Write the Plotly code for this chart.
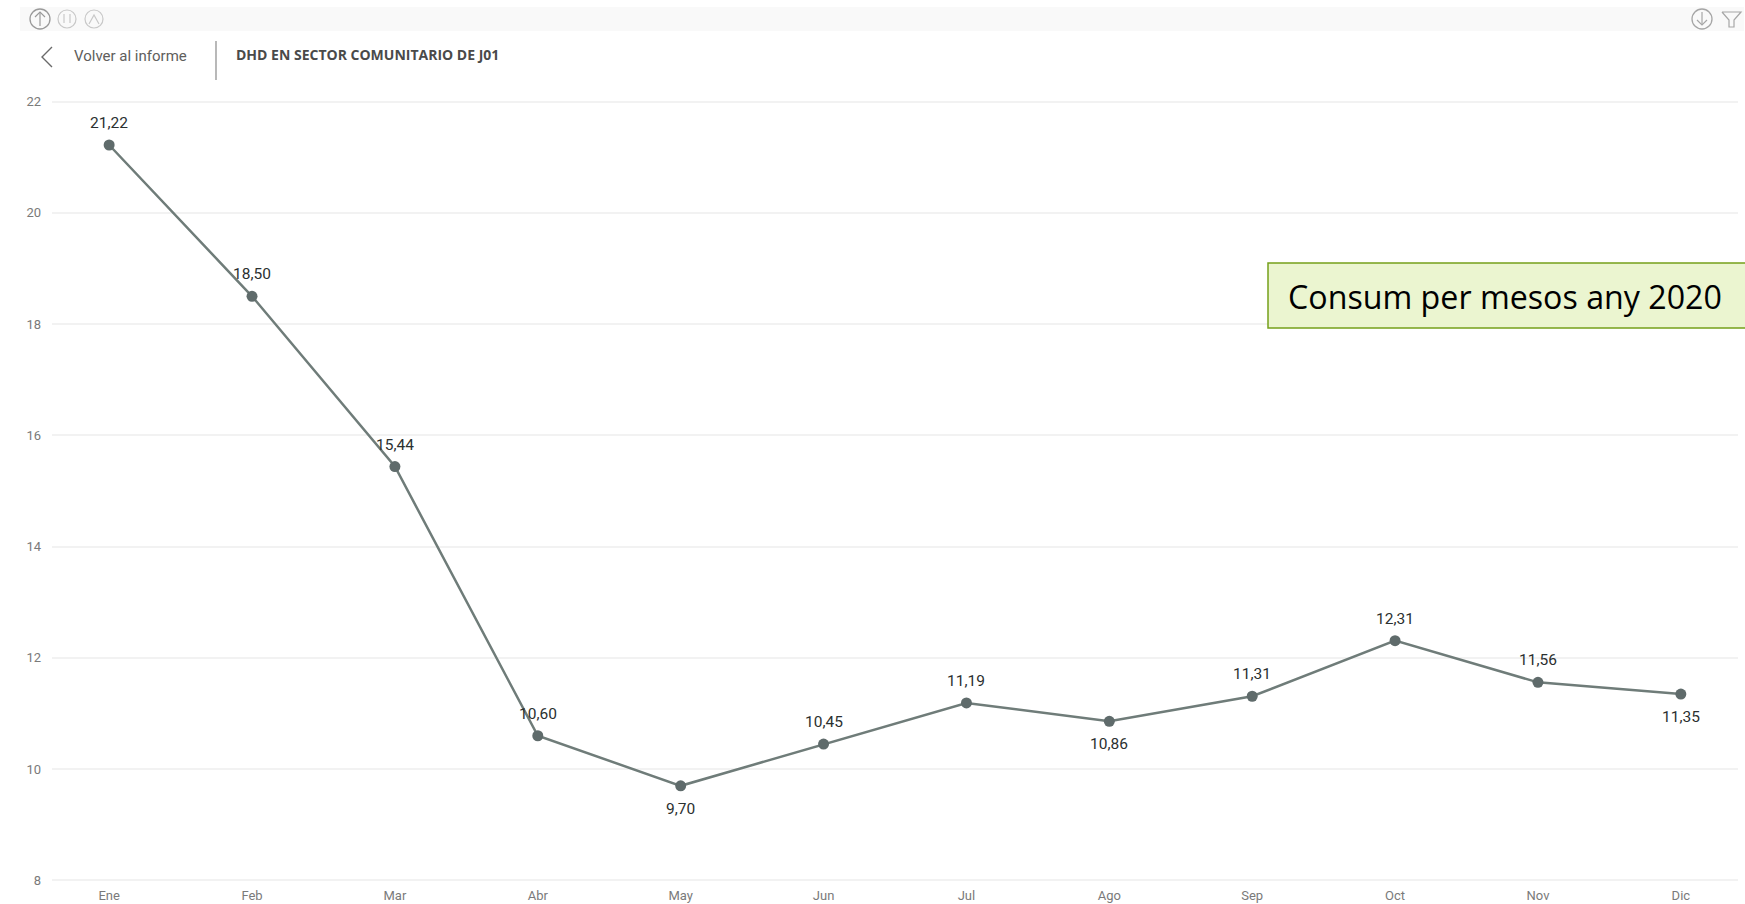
import plotly.graph_objects as go

W, H = 1745, 904
months = ["Ene", "Feb", "Mar", "Abr", "May", "Jun", "Jul", "Ago", "Sep", "Oct", "Nov", "Dic"]
values = [21.22, 18.50, 15.44, 10.60, 9.70, 10.45, 11.19, 10.86, 11.31, 12.31, 11.56, 11.35]
labels = ["21,22", "18,50", "15,44", "10,60", "9,70", "10,45", "11,19", "10,86", "11,31", "12,31", "11,56", "11,35"]
below = ["May", "Ago", "Dic"]
y_ticks = [8, 10, 12, 14, 16, 18, 20, 22]

def px(x):
    return x / W

def py(y):
    return 1 - y / H

def rect(x0, y0, x1, y1, fill, line=None, lw=0):
    return dict(type="rect", xref="paper", yref="paper", x0=px(x0), y0=py(y0), x1=px(x1), y1=py(y1),
                fillcolor=fill, line=dict(color=line or fill, width=lw))

def circle(cx, cy, r, color, lw=1.2):
    return dict(type="circle", xref="paper", yref="paper", x0=px(cx - r), y0=py(cy - r), x1=px(cx + r), y1=py(cy + r),
                line=dict(color=color, width=lw), fillcolor="rgba(0,0,0,0)")

def poly(points, color, lw=1.2):
    d = "M " + " L ".join(f"{px(x):.5f} {py(y):.5f}" for x, y in points)
    return dict(type="path", xref="paper", yref="paper", path=d, line=dict(color=color, width=lw))

fig = go.Figure()
fig.add_trace(go.Scatter(
    x=months, y=values, mode="lines+markers",
    line=dict(color="#6f7c79", width=2.5),
    marker=dict(color="#5f6b6b", size=11),
    cliponaxis=False, showlegend=False, hoverinfo="skip",
))

shapes = [
    rect(20, 7, 1744, 31, "#f9f9f9"),
    circle(40, 19, 10, "#9a9a9a", 1.3),
    poly([(40, 26), (40, 12)], "#9a9a9a"),
    poly([(35, 17), (40, 12), (45, 17)], "#9a9a9a"),
    circle(67, 19, 9, "#c8c8c8"),
    poly([(64, 14), (64, 23)], "#c8c8c8"),
    poly([(70, 14), (70, 23)], "#c8c8c8"),
    circle(94, 19, 9, "#c8c8c8"),
    poly([(89, 24), (94, 15), (99, 24)], "#c8c8c8"),
    circle(1702, 19, 10, "#a6a6a6", 1.3),
    poly([(1702, 12), (1702, 25)], "#a6a6a6"),
    poly([(1697, 20), (1702, 25), (1707, 20)], "#a6a6a6"),
    poly([(1722, 12), (1741, 12), (1734, 20), (1734, 27), (1729, 27), (1729, 20), (1722, 12)], "#a6a6a6"),
    poly([(52, 47), (42, 57), (52, 67)], "#6a6a6a", 1.4),
    poly([(216, 41), (216, 80)], "#8a8a8a", 1.2),
    rect(1268, 263, 1747, 328, "#ebf5d0", "#76a01a", 1.5),
]

annotations = [
    dict(xref="paper", yref="paper", x=px(72), y=py(56), xanchor="left", yanchor="middle", showarrow=False,
         text="Volver al informe", font=dict(family="Roboto, sans-serif", size=15, color="#605e5c")),
    dict(xref="paper", yref="paper", x=px(234), y=py(55), xanchor="left", yanchor="middle", showarrow=False,
         text="<b>DHD EN SECTOR COMUNITARIO DE J01</b>", font=dict(family="Open Sans, sans-serif", size=14, color="#4a4a4a")),
    dict(xref="paper", yref="paper", x=px(1286), y=py(296), xanchor="left", yanchor="middle", showarrow=False,
         text="Consum per mesos any 2020", font=dict(family="Open Sans, sans-serif", size=32.2, color="#000000")),
]
for m, v, t in zip(months, values, labels):
    annotations.append(dict(
        x=m, y=v, xref="x", yref="y", showarrow=False, text=t,
        yshift=-23 if m in below else 22,
        font=dict(family="Roboto, sans-serif", size=15.5, color="#2b3030"),
    ))

fig.update_layout(
    width=W, height=H, autosize=False,
    margin=dict(l=0, r=0, t=0, b=0),
    paper_bgcolor="#ffffff", plot_bgcolor="#ffffff",
    shapes=shapes, annotations=annotations,
    xaxis=dict(domain=[px(52), px(1738)], type="category", range=[-0.4, 11.4], automargin=False,
               showgrid=False, zeroline=False, showline=False, ticks="", ticklabelstandoff=4,
               tickfont=dict(family="Roboto, sans-serif", size=13, color="#7a7a7a")),
    yaxis=dict(domain=[py(881.5), py(100.5)], range=[7.98, 22.02], tickvals=y_ticks, automargin=False,
               showgrid=True, gridcolor="#f2f2f2", gridwidth=1.5, zeroline=False, showline=False, ticks="",
               ticklabelstandoff=10,
               tickfont=dict(family="Roboto, sans-serif", size=13, color="#7a7a7a")),
)

fig.write_html("out.html", config={"displayModeBar": False},
               post_script="document.body.style.margin='0';document.body.style.overflow='hidden';")
